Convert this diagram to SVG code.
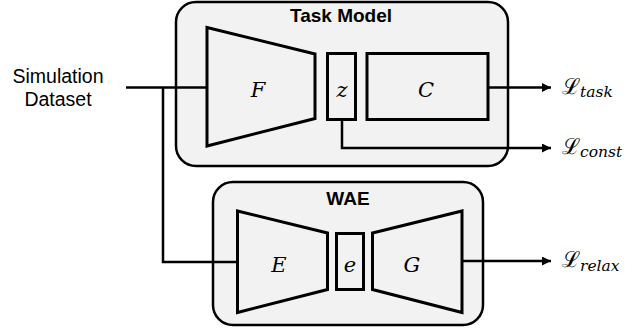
<svg xmlns="http://www.w3.org/2000/svg" width="641" height="334" viewBox="0 0 641 334">
  <defs>
    <marker id="arrow" viewBox="0 0 10 10" refX="10" refY="5" markerWidth="10" markerHeight="9" markerUnits="userSpaceOnUse" orient="auto">
      <path d="M0,0 L10,5 L0,10 Z" fill="#000"/>
    </marker>
  </defs>
  <style>
    .panel { fill: #f2f2f2; stroke: #000; stroke-width: 2.5; }
    .block { fill: #f2f2f2; stroke: #000; stroke-width: 3; stroke-linejoin: miter; }
    .wire { fill: none; stroke: #000; stroke-width: 2.5; }
    .title { font-family: "Liberation Sans", Arial, sans-serif; font-weight: bold; font-size: 19px; text-anchor: middle; fill: #000; }
    .label { font-family: "Liberation Sans", Arial, sans-serif; font-size: 19.5px; text-anchor: middle; fill: #000; }
    .sym { font-family: "DejaVu Serif", serif; font-style: italic; font-size: 21px; text-anchor: middle; fill: #000; }
    .loss { font-family: "DejaVu Serif", serif; font-size: 22px; fill: #000; }
    .sub { font-family: "DejaVu Serif", serif; font-style: italic; font-size: 15.5px; }
  </style>

  <!-- input label -->
  <g id="input">
    <text class="label" x="58" y="83">Simulation</text>
    <text class="label" x="58" y="106">Dataset</text>
  </g>

  <!-- task model: encoder F, latent z, classifier C -->
  <g id="task-model">
    <rect class="panel" x="176" y="2" width="332" height="164" rx="20" ry="20"/>
    <text class="title" x="341" y="21.5">Task Model</text>
  </g>
  <g id="F">
    <polygon class="block" points="207,27.5 315,54 315,118.5 207,146"/>
    <text class="sym" x="258" y="97">F</text>
  </g>
  <g id="z">
    <rect class="block" x="327.5" y="53.5" width="28" height="66"/>
    <text class="sym" x="342" y="97">z</text>
  </g>
  <g id="C">
    <rect class="block" x="367" y="53.5" width="121" height="66"/>
    <text class="sym" x="426" y="97">C</text>
  </g>

  <!-- WAE: encoder E, code e, generator G -->
  <g id="wae">
    <rect class="panel" x="213" y="182" width="270" height="143" rx="20" ry="20"/>
    <text class="title" x="348" y="205">WAE</text>
  </g>
  <g id="E">
    <polygon class="block" points="237.5,211 327.5,233 327.5,289.5 237.5,312.5"/>
    <text class="sym" x="279" y="272">E</text>
  </g>
  <g id="e">
    <rect class="block" x="336.5" y="233.5" width="27" height="56"/>
    <text class="sym" x="350" y="272">e</text>
  </g>
  <g id="G">
    <polygon class="block" points="372.5,233 462,211 462,312.5 372.5,289.5"/>
    <text class="sym" x="412" y="272">G</text>
  </g>

  <!-- loss terms -->
  <g id="loss-task">
    <text class="loss" x="562" y="93.5">ℒ<tspan class="sub" dy="3.5">task</tspan></text>
  </g>
  <g id="loss-const">
    <text class="loss" x="562" y="153.5">ℒ<tspan class="sub" dy="3.5">const</tspan></text>
  </g>
  <g id="loss-relax">
    <text class="loss" x="562" y="267">ℒ<tspan class="sub" dy="3.5">relax</tspan></text>
  </g>

  <!-- connectors -->
  <g id="connectors">
    <path class="wire" d="M126,87.5 H207"/>
    <path class="wire" d="M163,87.5 V262 H237.5"/>
    <path class="wire" d="M488,87.5 H551" marker-end="url(#arrow)"/>
    <path class="wire" d="M342,119.5 V148 H551" marker-end="url(#arrow)"/>
    <path class="wire" d="M462,261 H551" marker-end="url(#arrow)"/>
  </g>
</svg>
